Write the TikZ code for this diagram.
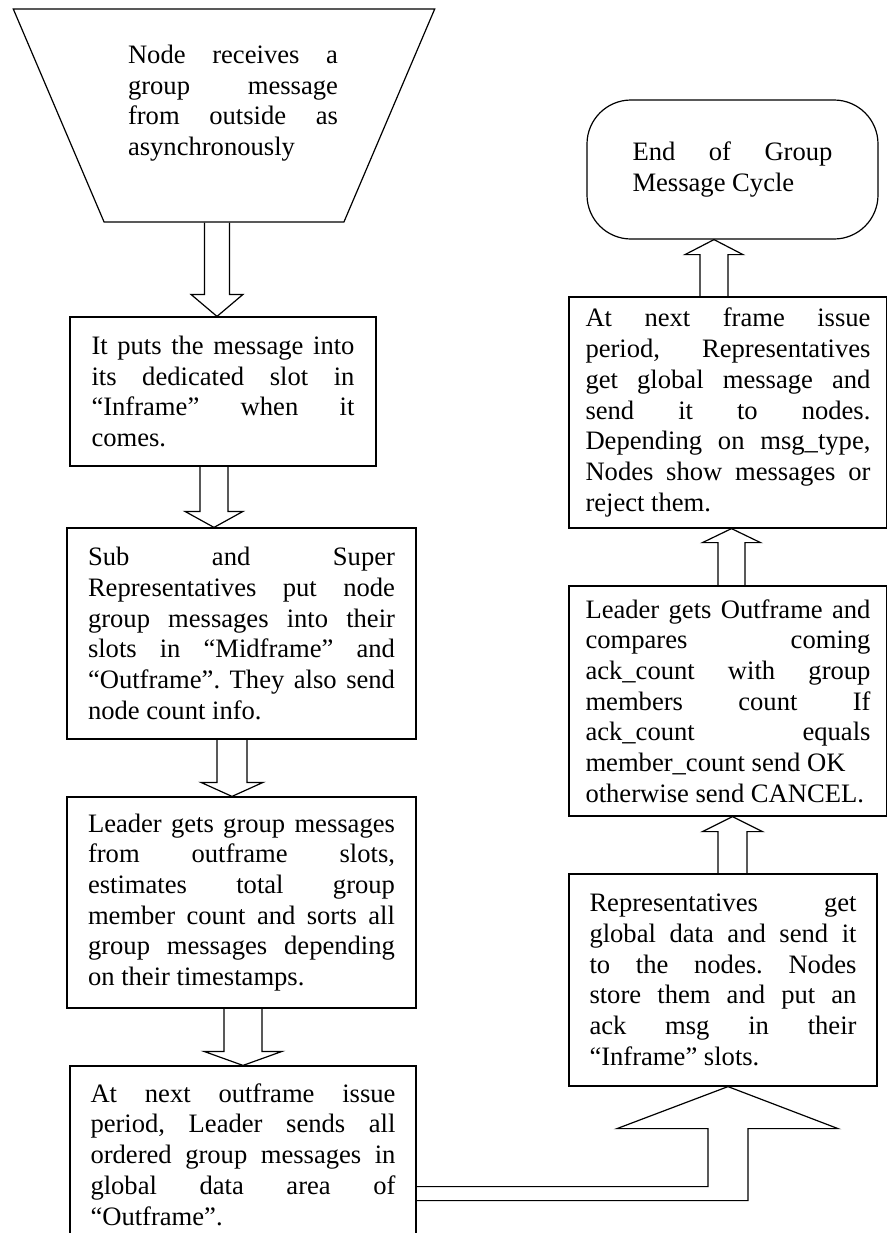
\documentclass[tikz,border=0pt]{standalone}
\usepackage{fontspec}
\setmainfont{Liberation Serif}
\usetikzlibrary{calc,shapes.geometric}

\newcommand{\flowfont}{\fontsize{13.3}{15.35}\selectfont\frenchspacing\tolerance=10000\hyphenpenalty=10000\relax}

\begin{document}
\begin{tikzpicture}[
  x=1pt, y=-1pt,
  line width=0.6pt,
  font=\flowfont,
  stepbox/.style={draw, rectangle, align=justify, inner sep=0pt},
  txt/.style={align=justify, inner sep=0pt},
  inshape/.style={draw, trapezium, shape border rotate=180, trapezium stretches=true,
    trapezium left angle=68, trapezium right angle=68, inner sep=1pt,
    minimum width=211pt, minimum height=106.5pt}
]
  \useasboundingbox (0,0) rectangle (443.5,616.5);
  \clip (0,0) rectangle (443.5,616.5);

  % left column
  \node[inshape] (recv) at (112,57.75) {\phantom{x}};
  \node[txt, text width=105pt] (recvtxt) at (116.5,51.5) {Node receives a\linebreak group message\linebreak from outside as\linebreak asynchronously};
  \node[stepbox, minimum width=153pt, minimum height=74.5pt, text width=131.5pt] (puts) at (111.5,195.75)
    {It puts the message into\linebreak its dedicated slot in\linebreak “Inframe” when it\linebreak comes.};
  \node[stepbox, minimum width=174.5pt, minimum height=105.5pt, text width=153.5pt] (subsup) at (120.75,316.75)
    {Sub and Super\linebreak Representatives put node\linebreak group messages into their\linebreak slots in “Midframe” and\linebreak “Outframe”. They also send\linebreak node count info.};
  \node[stepbox, minimum width=174.5pt, minimum height=105.5pt, text width=153.5pt] (sortmsg) at (120.75,451.25)
    {Leader gets group messages\linebreak from outframe slots,\linebreak estimates total group\linebreak member count and sorts all\linebreak group messages depending\linebreak on their timestamps.};
  \node[stepbox, minimum width=173pt, minimum height=88.5pt, text width=152.5pt] (sendout) at (121.5,577.25)
    {At next outframe issue\linebreak period, Leader sends all\linebreak ordered group messages in\linebreak global data area of\linebreak “Outframe”.};

  % right column
  \node[stepbox, rounded corners=22pt, minimum width=145.5pt, minimum height=69.5pt, text width=100pt] (endcycle) at (366.25,84.75)
    {End of Group\linebreak Message Cycle};
  \node[stepbox, minimum width=159pt, minimum height=115.5pt, text width=142.5pt] (issue) at (364,206.25)
    {At next frame issue\linebreak period, Representatives\linebreak get global message and\linebreak send it to nodes.\linebreak Depending on msg\_type,\linebreak Nodes show messages or\linebreak reject them.};
  \node[stepbox, minimum width=159pt, minimum height=115pt, text width=142.5pt] (compare) at (364,350.5)
    {Leader gets Outframe and\linebreak compares coming\linebreak ack\_count with group\linebreak members count If\linebreak ack\_count equals\linebreak member\_count send OK\newline otherwise send CANCEL.};
  \node[stepbox, minimum width=154pt, minimum height=106pt, text width=133.5pt] (represent) at (361.5,490)
    {Representatives get\linebreak global data and send it\linebreak to the nodes. Nodes\linebreak store them and put an\linebreak ack msg in their\linebreak “Inframe” slots.};

  % block arrows down
  \foreach \src/\dst/\ax/\sh/\hh/\hl in {recv/puts/108.5/6.25/13/11, puts/subsup/107/7/14.5/8,
      subsup/sortmsg/116/7.5/15.5/7, sortmsg/sendout/121.5/9.5/19.5/7}{
    \coordinate (ax) at (\ax,0);
    \draw ($(ax |- \src.south)+(-\sh,0)$) -- ($(ax |- \dst.north)+(-\sh,-\hl)$)
      -- ($(ax |- \dst.north)+(-\hh,-\hl)$) -- (ax |- \dst.north)
      -- ($(ax |- \dst.north)+(\hh,-\hl)$) -- ($(ax |- \dst.north)+(\sh,-\hl)$)
      -- ($(ax |- \src.south)+(\sh,0)$);
  }

  % block arrows up
  \foreach \src/\dst/\ax/\sh/\hh/\hl in {represent/compare/366.25/7.25/15/7.5,
      compare/issue/365.75/6.75/14.5/7, issue/endcycle/357/7/14.5/7.5}{
    \coordinate (ax) at (\ax,0);
    \draw ($(ax |- \src.north)+(-\sh,0)$) -- ($(ax |- \dst.south)+(-\sh,\hl)$)
      -- ($(ax |- \dst.south)+(-\hh,\hl)$) -- (ax |- \dst.south)
      -- ($(ax |- \dst.south)+(\hh,\hl)$) -- ($(ax |- \dst.south)+(\sh,\hl)$)
      -- ($(ax |- \src.north)+(\sh,0)$);
  }

  % bent arrow across
  \coordinate (bigx) at (364,0);
  \coordinate (tip) at (bigx |- represent.south);
  \coordinate (lb) at ($(tip)+(-10,50)$);
  \coordinate (rb) at ($(tip)+(10,57)$);
  \draw (sendout.east |- lb) -- (lb) -- ($(tip)+(-10,21)$) -- ($(tip)+(-55.5,21)$) -- (tip)
    -- ($(tip)+(55,21)$) -- ($(tip)+(10,21)$) -- (rb) -- (sendout.east |- rb);
\end{tikzpicture}
\end{document}
